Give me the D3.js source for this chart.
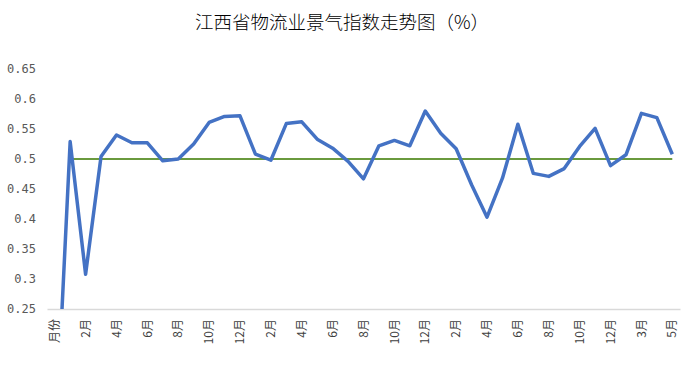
<!DOCTYPE html>
<html>
<head>
<meta charset="utf-8">
<script src="https://cdn.jsdelivr.net/npm/d3@7"></script>
<style>
  body { margin: 0; background: #fff; }
  svg { display: block; font-family: "Noto Sans CJK SC", sans-serif; }
</style>
</head>
<body>
<div id="chart"></div>
<script>
// category labels (only every other one is drawn on the axis)
const months = [
  '月份', '1月', '2月', '3月', '4月', '5月', '6月', '7月', '8月', '9月', '10月', '11月', '12月',
  '1月', '2月', '3月', '4月', '5月', '6月', '7月', '8月', '9月', '10月', '11月', '12月',
  '1月', '2月', '3月', '4月', '5月', '6月', '7月', '8月', '9月', '10月', '11月', '12月',
  '2月', '3月', '4月', '5月'
];

// logistics index (first value is 0, falls below the axis and is clipped)
const indexValues = [
  0, 0.529, 0.308, 0.504, 0.540, 0.527, 0.527, 0.497, 0.500, 0.525, 0.561, 0.571, 0.572,
  0.508, 0.498, 0.559, 0.562, 0.533, 0.518, 0.496, 0.467, 0.522, 0.531, 0.522, 0.580,
  0.543, 0.517, 0.457, 0.403, 0.468, 0.558, 0.476, 0.471, 0.484, 0.521, 0.551, 0.489,
  0.507, 0.576, 0.569, 0.508
];

// boom-bust line at 0.5 (no value in the first slot)
const baseValues = months.map((m, i) => i === 0 ? null : 0.5);

const yTicks = [0.25, 0.3, 0.35, 0.4, 0.45, 0.5, 0.55, 0.6, 0.65];
const title = '江西省物流业景气指数走势图（%）';

const width = 692, height = 371;
const margin = { top: 69, right: 12, bottom: 62, left: 47 };

const svg = d3.select('#chart').append('svg')
  .attr('width', width)
  .attr('height', height);

const x = d3.scaleBand()
  .domain(d3.range(months.length))
  .range([margin.left, width - margin.right]);
const cx = i => x(i) + x.bandwidth() / 2;

const y = d3.scaleLinear()
  .domain([0.25, 0.65])
  .range([height - margin.bottom, margin.top]);

// title
svg.append('text')
  .attr('x', 342)
  .attr('y', 29)
  .attr('text-anchor', 'middle')
  .attr('font-size', 18.5)
  .attr('font-weight', 300)
  .attr('fill', '#000')
  .text(title);

// y axis (labels only)
const yAxis = svg.append('g')
  .attr('transform', `translate(${margin.left}, 0)`)
  .call(d3.axisLeft(y).tickValues(yTicks).tickSize(0).tickPadding(11).tickFormat(d => String(d)));
yAxis.select('.domain').remove();
yAxis.selectAll('text')
  .attr('font-size', 12)
  .attr('fill', '#595959')
  .attr('font-family', '"DejaVu Sans Mono", monospace');

// x axis
const xAxis = svg.append('g')
  .attr('transform', `translate(0, ${height - margin.bottom})`)
  .call(d3.axisBottom(x)
    .tickValues(d3.range(0, months.length, 2))
    .tickSize(0)
    .tickFormat(i => months[i]));
xAxis.select('.domain').attr('stroke', '#d9d9d9').attr('stroke-width', 1.5);
xAxis.selectAll('text')
  .attr('font-size', 12)
  .attr('fill', '#404040')
  .attr('font-family', '"Noto Sans CJK SC", sans-serif')
  .attr('text-anchor', 'end')
  .attr('transform', 'rotate(-90)')
  .attr('x', -10)
  .attr('y', 0)
  .attr('dy', '0.35em');

// clip lines to the plot area
svg.append('clipPath').attr('id', 'plot-clip')
  .append('rect')
  .attr('x', margin.left)
  .attr('y', 0)
  .attr('width', width - margin.left - margin.right)
  .attr('height', height - margin.bottom);

const line = d3.line()
  .defined(d => d != null)
  .x((d, i) => cx(i))
  .y(d => y(d));

const plot = svg.append('g').attr('clip-path', 'url(#plot-clip)');

plot.append('path')
  .datum(baseValues)
  .attr('fill', 'none')
  .attr('stroke', '#6a9a3e')
  .attr('stroke-width', 2)
  .attr('d', line);

plot.append('path')
  .datum(indexValues)
  .attr('fill', 'none')
  .attr('stroke', '#4472c4')
  .attr('stroke-width', 3.5)
  .attr('stroke-linejoin', 'round')
  .attr('d', line);
</script>
</body>
</html>
